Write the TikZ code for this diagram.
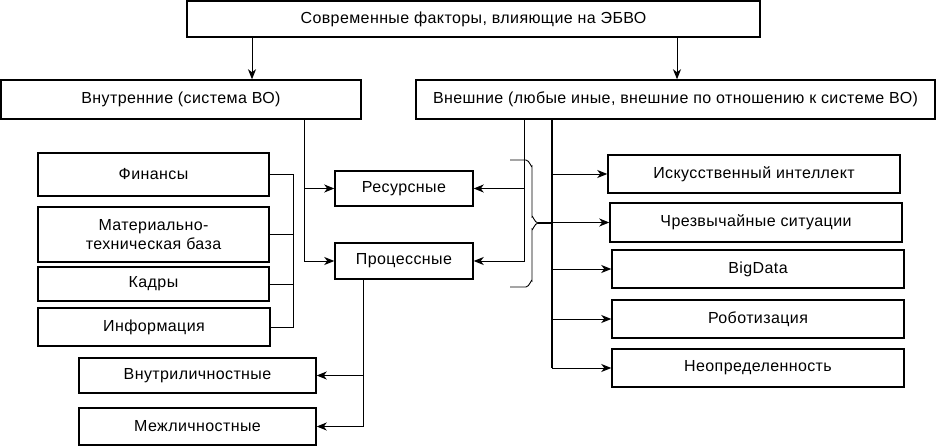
\documentclass[tikz,border=0pt]{standalone}
\usepackage{fontspec}
\setmainfont[LetterSpace=2.5]{Liberation Sans}
\usepackage{tikz}
\usetikzlibrary{arrows.meta}
\tikzset{>={Stealth[length=10pt, width=8pt, inset=3pt]}}

\begin{document}
\begin{tikzpicture}[x=1pt, y=-1pt]
                % pixel grid of the scheme, y grows downwards
                \tikzstyle{every node}=[font=\fontsize{16pt}{19pt}\selectfont]
                \tikzstyle{box}=[draw=black, rectangle, line width=1.5pt, inner sep=0pt, align=center]
                \tikzstyle{link}=[black, line width=0.9pt]
                \useasboundingbox (0,0) rectangle (938,446);

                \node[box, minimum width=573pt, minimum height=36pt] (Top) at (473.5,19) {Современные факторы, влияющие на ЭБВО};
                \node[box, minimum width=360pt, minimum height=39pt] (In) at (181,99.5) {Внутренние (система ВО)};
                \node[box, minimum width=519pt, minimum height=39pt] (Out) at (675.5,99.5) {Внешние (любые иные, внешние по отношению к системе ВО)};

                % middle column
                \node[box, minimum width=138pt, minimum height=35pt] (Res) at (404,188.5) {Ресурсные};
                \node[box, minimum width=138pt, minimum height=36pt] (Proc) at (404,261) {Процессные};

                % left column
                \node[box, minimum width=231pt, minimum height=43pt] (Fin) at (153.5,174.5) {Финансы};
                \node[box, minimum width=231pt, minimum height=55pt] (Mat) at (153.5,234.5) {Материально-\\техническая база};
                \node[box, minimum width=231pt, minimum height=34pt] (Kadr) at (153.5,284) {Кадры};
                \node[box, minimum width=232pt, minimum height=38pt] (Info) at (154,327) {Информация};
                \node[box, minimum width=237pt, minimum height=35pt] (Intra) at (197.5,375.5) {Внутриличностные};
                \node[box, minimum width=237pt, minimum height=37pt] (Inter) at (197.5,426.5) {Межличностные};

                % right column
                \node[box, minimum width=292pt, minimum height=38pt] (AI) at (754,174) {Искусственный интеллект};
                \node[box, minimum width=292pt, minimum height=39pt] (Emerg) at (756,222.5) {Чрезвычайные ситуации};
                \node[box, minimum width=292pt, minimum height=38pt] (Big) at (758,269) {BigData};
                \node[box, minimum width=292pt, minimum height=38pt] (Robot) at (758,319) {Роботизация};
                \node[box, minimum width=292pt, minimum height=38pt] (Unc) at (758,368) {Неопределенность};

                % bus lines
                \coordinate (busL) at (252,0);
                \coordinate (busR) at (677,0);
                \coordinate (busIn) at (304,0);
                \coordinate (brk) at (293,0);
                \coordinate (busProc) at (363,0);
                \coordinate (busOut) at (524,0);
                \coordinate (busExt) at (552,0);
                \coordinate (brTip) at (538,223);

                \draw[link, ->] (Top.south -| busL) -- (In.north -| busL);
                \draw[link, ->] (Top.south -| busR) -- (Out.north -| busR);

                \draw[link, ->] (In.south -| busIn) |- (Proc.west);
                \draw[link, ->] (busIn |- Res.west) -- (Res.west);

                \draw[link] (Fin.east) -| (Info.east -| brk) -- (Info.east);
                \draw[link] (Mat.east) -- (Mat.east -| brk);
                \draw[link] (Kadr.east) -- (Kadr.east -| brk);

                \draw[link, ->] (Proc.south -| busProc) |- (Inter.east);
                \draw[link, ->] (busProc |- Intra.east) -- (Intra.east);

                \draw[link, ->] (Out.south -| busOut) |- (Proc.east);
                \draw[link, ->] (busOut |- Res.east) -- (Res.east);

                % brace
                \draw[link] (510,160) -- (526,160) to[out=0, in=-90] (532,166) -- (532,217)
                        to[out=90, in=180] (brTip) to[out=180, in=-90] (532,229) -- (532,281)
                        to[out=90, in=0] (526,287) -- (510,287);
                \draw[link, line width=1.5pt] (brTip) -- (brTip -| busExt);

                \draw[link, line width=1.5pt] (Out.south -| busExt) -- (Unc.west -| busExt);
                \draw[link, ->] (busExt |- Unc.west) -- (Unc.west);
                \draw[link, ->] (busExt |- AI.west) -- (AI.west);
                \draw[link, ->] (busExt |- Emerg.west) -- (Emerg.west);
                \draw[link, ->] (busExt |- Big.west) -- (Big.west);
                \draw[link, ->] (busExt |- Robot.west) -- (Robot.west);
\end{tikzpicture}
\end{document}
